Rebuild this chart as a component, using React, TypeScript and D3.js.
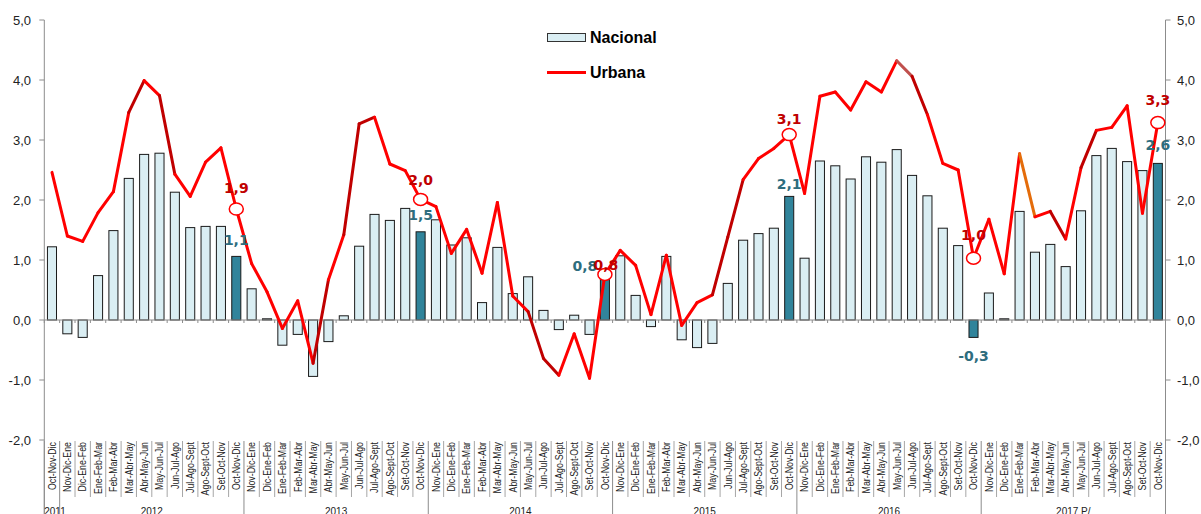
import React from "react";
import * as d3 from "d3";

// ---------- DATA ----------
const yearGroups = ["2011", "2012", "2013", "2014", "2015", "2016", "2017 P/"];
const monthTrios = [
  "Nov-Dic-Ene", "Dic-Ene-Feb", "Ene-Feb-Mar", "Feb-Mar-Abr", "Mar-Abr-May", "Abr-May-Jun",
  "May-Jun-Jul", "Jun-Jul-Ago", "Jul-Ago-Sept", "Ago-Sept-Oct", "Set-Oct-Nov", "Oct-Nov-Dic",
];
const categories: string[] = ["Oct-Nov-Dic"].concat(
  ...[0, 1, 2, 3, 4, 5].map(() => monthTrios)
);

const nacional = [
  1.22, -0.23, -0.29, 0.74, 1.49, 2.36, 2.76, 2.78, 2.13, 1.54, 1.56, 1.56, 1.06,
  0.52, 0.02, -0.42, -0.24, -0.94, -0.36, 0.07, 1.23, 1.76, 1.66, 1.86, 1.47,
  1.67, 1.25, 1.37, 0.29, 1.21, 0.44, 0.72, 0.16, -0.16, 0.08, -0.24, 0.78,
  1.07, 0.41, -0.11, 1.06, -0.33, -0.46, -0.39, 0.61, 1.33, 1.44, 1.53, 2.06,
  1.03, 2.65, 2.57, 2.35, 2.72, 2.63, 2.84, 2.41, 2.07, 1.53, 1.24, -0.29,
  0.45, 0.02, 1.81, 1.13, 1.26, 0.89, 1.82, 2.74, 2.86, 2.64, 2.49, 2.61,
];
const urbana = [
  2.46, 1.40, 1.31, 1.79, 2.14, 3.46, 3.99, 3.74, 2.43, 2.06, 2.63, 2.87, 1.85,
  0.94, 0.47, -0.14, 0.32, -0.72, 0.67, 1.42, 3.27, 3.38, 2.60, 2.49, 2.01,
  1.89, 1.11, 1.51, 0.78, 1.96, 0.40, 0.14, -0.64, -0.92, -0.23, -0.97, 0.76,
  1.16, 0.91, 0.09, 1.08, -0.09, 0.29, 0.42, 1.38, 2.34, 2.69, 2.86, 3.09,
  2.11, 3.73, 3.80, 3.50, 3.97, 3.80, 4.32, 4.06, 3.42, 2.61, 2.50, 1.03,
  1.68, 0.77, 2.77, 1.72, 1.81, 1.35, 2.54, 3.16, 3.21, 3.57, 1.78, 3.29,
];
const yTicks = [-2, -1, 0, 1, 2, 3, 4, 5];
const highlighted = [12, 24, 36, 48, 60, 72];

// ---------- STYLE ----------
const W = 1201, H = 514;
const X0 = 44.3, X1 = 1165.5, YTOP = 20, YBOT = 440;
const RED = "#FF0000", DARKRED = "#C00000", ORANGE = "#E46C0A", BROWN = "#C0504D";
const segColor: Record<number, string> = {
  5: DARKRED, 7: DARKRED, 17: DARKRED, 19: DARKRED, 20: DARKRED, 31: DARKRED, 32: DARKRED,
  43: DARKRED, 44: DARKRED, 55: BROWN, 56: DARKRED, 63: ORANGE, 65: DARKRED, 67: DARKRED,
};
// label offsets [dx, dy]
const urbLabelOff: Record<number, [number, number]> = {
  12: [0, -16], 24: [0, -14], 36: [1, -4.5], 48: [0, -11], 60: [0, -18], 72: [0, -17.5],
};
const nacLabelOff: Record<number, [number, number]> = {
  12: [0, -11.5], 24: [0, -12], 36: [-20, -2.5], 48: [0, -7], 60: [0, 24], 72: [0, -13.5],
};
const fmt = (v: number) => (Math.round(v * 10) / 10).toFixed(1).replace(".", ",");

export default function App() {
  const x = d3
    .scaleBand<number>()
    .domain(categories.map((_, i) => i))
    .range([X0, X1])
    .paddingInner(0.41)
    .paddingOuter(0.205);
  const bw = x.bandwidth();
  const cx = (i: number) => (x(i) as number) + bw / 2;
  const y = d3.scaleLinear().domain([-2, 5]).range([YBOT, YTOP]);
  const y0 = y(0);
  const axisColor = "#8C8C8C";
  const sans = "'Liberation Sans', Arial, sans-serif";
  const bold = "'DejaVu Sans', Verdana, sans-serif";

  const bounds = d3.range(categories.length + 1).map((k) => X0 + (X1 - X0) * (k / categories.length));
  const yearBoundIdx = [0, 1, 13, 25, 37, 49, 61, 73];

  const lineGen = d3
    .line<[number, number]>()
    .x((p) => cx(p[0]))
    .y((p) => y(p[1]));

  const segments = urbana.slice(0, -1).map((v, i) => ({
    i,
    d: lineGen([
      [i, v],
      [i + 1, urbana[i + 1]],
    ]) as string,
  }));

  return (
    <div style={{ position: "absolute", left: 0, top: 0 }}>
      <svg width={W} height={H} style={{ display: "block", background: "#fff" }}>
        <line x1={X0} x2={X0} y1={YTOP} y2={H} stroke={axisColor} strokeWidth={1} />
        <line x1={X1} x2={X1} y1={YTOP} y2={H} stroke={axisColor} strokeWidth={1} />
        {yTicks.map((t) => (
          <g key={"yt" + t}>
            <line x1={X0 - 5} x2={X0} y1={y(t)} y2={y(t)} stroke={axisColor} />
            <line x1={X1} x2={X1 + 5} y1={y(t)} y2={y(t)} stroke={axisColor} />
            <text x={31} y={y(t) + 4.5} textAnchor="end" fontFamily={sans} fontSize={13} fill="#222">
              {fmt(t)}
            </text>
            <text x={1177} y={y(t) + 4.5} textAnchor="start" fontFamily={sans} fontSize={13} fill="#222">
              {fmt(t)}
            </text>
          </g>
        ))}

        {nacional.map((v, i) => {
          const hl = highlighted.includes(i);
          return (
            <rect
              key={"b" + i}
              x={x(i)}
              y={Math.min(y(v), y0)}
              width={bw}
              height={Math.abs(y(v) - y0)}
              fill={hl ? "#31849B" : "#DAEEF3"}
              stroke="#1a1a1a"
              strokeWidth={1}
            />
          );
        })}

        <line x1={X0} x2={X1} y1={y0} y2={y0} stroke={axisColor} strokeWidth={1.2} />
        {bounds.map((bx, k) => (
          <line key={"zt" + k} x1={bx} x2={bx} y1={y0} y2={y0 + 3} stroke={axisColor} />
        ))}

        {bounds.map((bx, k) =>
          yearBoundIdx.includes(k) ? null : (
            <line key={"cs" + k} x1={bx} x2={bx} y1={441} y2={497} stroke="#A6A6A6" strokeWidth={1} />
          )
        )}
        {yearBoundIdx.map((k) => (
          <line key={"ys" + k} x1={bounds[k]} x2={bounds[k]} y1={441} y2={H} stroke={axisColor} strokeWidth={1} />
        ))}
        {categories.map((c, i) => (
          <text
            key={"cl" + i}
            transform={`translate(${cx(i)},442) rotate(-90) scale(0.84,1)`}
            textAnchor="end"
            dy="0.36em"
            fontFamily={sans}
            fontSize={10.5}
            fill="#222"
          >
            {c}
          </text>
        ))}
        {yearGroups.map((yr, g) => {
          const a = bounds[yearBoundIdx[g]];
          const b = bounds[yearBoundIdx[g + 1]];
          return (
            <text key={"yr" + g} x={(a + b) / 2 + (g === 0 ? 3 : 0)} y={515} textAnchor="middle" fontFamily={sans} fontSize={10} fill="#222">
              {yr}
            </text>
          );
        })}

        {segments.map((s) => (
          <path
            key={"s" + s.i}
            d={s.d}
            fill="none"
            stroke={segColor[s.i] || RED}
            strokeWidth={3}
            strokeLinecap="round"
            strokeLinejoin="round"
          />
        ))}
        {highlighted.map((i) => (
          <ellipse key={"m" + i} cx={cx(i)} cy={y(urbana[i])} rx={7} ry={6} fill="#fff" stroke={RED} strokeWidth={1.5} />
        ))}

        {highlighted.map((i) => (
          <text
            key={"nl" + i}
            x={cx(i) + nacLabelOff[i][0]}
            y={y(nacional[i]) + nacLabelOff[i][1]}
            textAnchor="middle"
            fontFamily={bold}
            fontWeight="bold"
            fontSize={14}
            fill="#2E6D7E"
          >
            {fmt(nacional[i])}
          </text>
        ))}
        {highlighted.map((i) => (
          <text
            key={"ul" + i}
            x={cx(i) + urbLabelOff[i][0]}
            y={y(urbana[i]) + urbLabelOff[i][1]}
            textAnchor="middle"
            fontFamily={bold}
            fontWeight="bold"
            fontSize={14}
            fill={DARKRED}
          >
            {fmt(urbana[i])}
          </text>
        ))}

        <rect x={547.5} y={33.5} width={38} height={8} fill="#DAEEF3" stroke="#333" strokeWidth={1} />
        <text x={590} y={42.5} fontFamily={sans} fontWeight="bold" fontSize={16} fill="#000">
          Nacional
        </text>
        <line x1={547} x2={586} y1={72.5} y2={72.5} stroke={RED} strokeWidth={3} />
        <text x={590} y={78} fontFamily={sans} fontWeight="bold" fontSize={16} fill="#000">
          Urbana
        </text>
      </svg>
    </div>
  );
}
